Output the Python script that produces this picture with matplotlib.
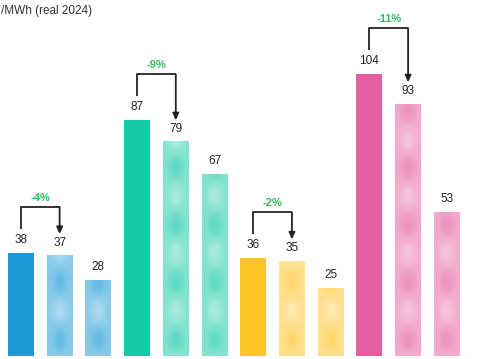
import matplotlib
matplotlib.use('Agg')
import matplotlib.pyplot as plt
import matplotlib.colors as mcolors
import numpy as np

# values per technology group: (current, next, long-term)
groups = ['blue', 'teal', 'yellow', 'pink']
values = [[38, 37, 28], [87, 79, 67], [36, 35, 25], [104, 93, 53]]
changes = ['-4%', '-9%', '-2%', '-11%']
base_colors = ['#1b9ad6', '#14c9a5', '#fec325', '#e55fa0']
unit_label = '/MWh (real 2024)'

plt.rcParams['font.family'] = ['Liberation Sans', 'DejaVu Sans']

fig = plt.figure(figsize=(4.84, 3.59), dpi=100)
ax = fig.add_axes([0, 3 / 359, 1, 356 / 359])
ax.axis('off')

bar_w = 0.67
px_per_unit = 2.71   # vertical pixels per value unit
bar_px = 26          # bar width in pixels


def pattern(color, n_y, n_x=24, period=2.2):
    # soft dotted gradient fill used for the forecast bars
    rgb = np.array(mcolors.to_rgb(color))
    yy, xx = np.mgrid[0:n_y, 0:n_x]
    xr = (xx - (n_x - 1) / 2) / (n_x / 2)
    yr = yy / n_x
    spot = np.cos(2 * np.pi * (yr - 0.6) / period) * np.exp(-xr ** 2 / 0.3)
    mix = 0.52 + 0.16 * spot
    mix = np.clip(mix, 0, 1)[..., None]
    return mix * rgb + (1 - mix) * np.ones(3)


for g, vals in enumerate(values):
    for i, v in enumerate(vals):
        x = g * 3 + i
        if i == 0:
            ax.bar(x, v, width=bar_w, color=base_colors[g], zorder=2)
        else:
            n_y = max(int(v * px_per_unit * 24 / bar_px), 2)
            img = pattern(base_colors[g], n_y)
            ax.imshow(img, extent=[x - bar_w / 2, x + bar_w / 2, 0, v],
                      origin='lower', aspect='auto', interpolation='bilinear',
                      zorder=2)
        ax.text(x, v + 2.6, str(v), ha='center', va='bottom', fontsize=8.5,
                color='#222222')

    # bracket from first to second bar
    x0, x1 = g * 3, g * 3 + 1
    top = vals[0] + 17
    ax.plot([x0, x0, x1], [vals[0] + 9, top, top], color='#222222', lw=1.3,
            zorder=3, solid_capstyle='butt')
    ax.annotate('', xy=(x1, vals[1] + 8), xytext=(x1, top),
                arrowprops=dict(arrowstyle='-|>,head_width=0.18,head_length=0.4',
                                color='#222222', lw=1.3, shrinkA=0, shrinkB=0),
                zorder=3)
    ax.text((x0 + x1) / 2, top + 1.6, changes[g], ha='center', va='bottom',
            fontsize=8, color='#2fbf5a', fontweight='bold')

ax.plot([-0.54, 11.5], [0, 0], color='#dddddd', lw=1, zorder=1)
ax.set_xlim(-0.54, 11.96)
ax.set_ylim(0, 131.4)

fig.text(0.002, 0.985, unit_label, ha='left', va='top', fontsize=8.5,
         color='#333333')

fig.savefig('out.png', dpi=100)
